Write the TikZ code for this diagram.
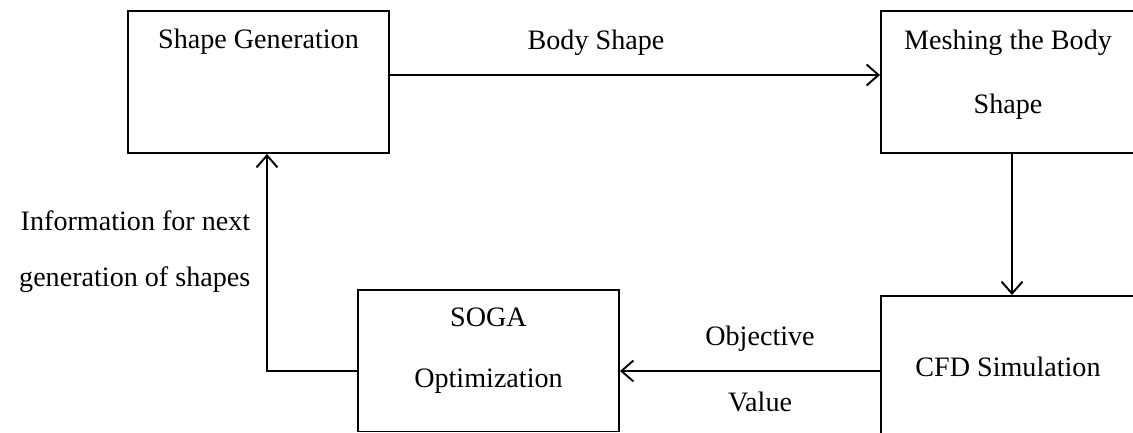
\documentclass[tikz,border=0pt]{standalone}
\usepackage{fontspec}
\setmainfont{Liberation Serif}
\usepackage{tikz}
\usetikzlibrary{arrows.meta,positioning,calc}

\begin{document}
\begin{tikzpicture}
    \tikzstyle{block}=[draw,rectangle,line width=1.1pt,minimum width=5.08cm,minimum height=2.84cm]
    \tikzstyle{txt}=[align=center,font=\fontsize{16}{19}\selectfont]
    \tikzstyle{arr}=[line width=1.1pt,-{Straight Barb[length=0.24cm,width=0.42cm]}]

    \useasboundingbox (0,0) rectangle (22.66,8.66);
    \clip (0,0) rectangle (22.66,8.66);

    \node[block,minimum width=5.22cm] at (5.17,7.02) (gen) {};
    \node[block] at (20.16,7.02) (mesh) {};
    \node[block,txt] at (20.16,1.32) (cfd) {CFD Simulation};
    \node[block,minimum width=5.22cm,minimum height=2.83cm] at (9.77,1.445) (soga) {};

    \node[txt,below=0.26cm of gen.north] (gentxt) {Shape Generation};
    \node[txt,below=0.28cm of mesh.north] (meshtxt) {Meshing the Body\\[0.6cm]Shape};
    \node[txt,below=0.26cm of soga.north] (sogatxt) {SOGA\\[0.55cm]Optimization};

    \draw[arr] ([yshift=0.14cm]gen.east) -- ([yshift=0.14cm]mesh.west);
    \draw[arr] ([xshift=0.08cm]mesh.south) -- ([xshift=0.08cm]cfd.north);
    \draw[arr] ([yshift=-0.08cm]cfd.west) -- ([yshift=-0.205cm]soga.east);
    \coordinate (turn) at (5.34,1.24);
    \draw[arr] ([yshift=-0.205cm]soga.west) -- (turn) -- (turn |- gen.south);

    \node[txt] at (11.92,7.8) (bodylbl) {Body Shape};
    \node[txt] at (15.2,1.28) (objlbl) {Objective\\[0.67cm]Value};
    \node[txt,anchor=east,align=right] at (5.13,3.63) (infolbl) {Information for next\\[0.45cm]generation of shapes};
\end{tikzpicture}
\end{document}
